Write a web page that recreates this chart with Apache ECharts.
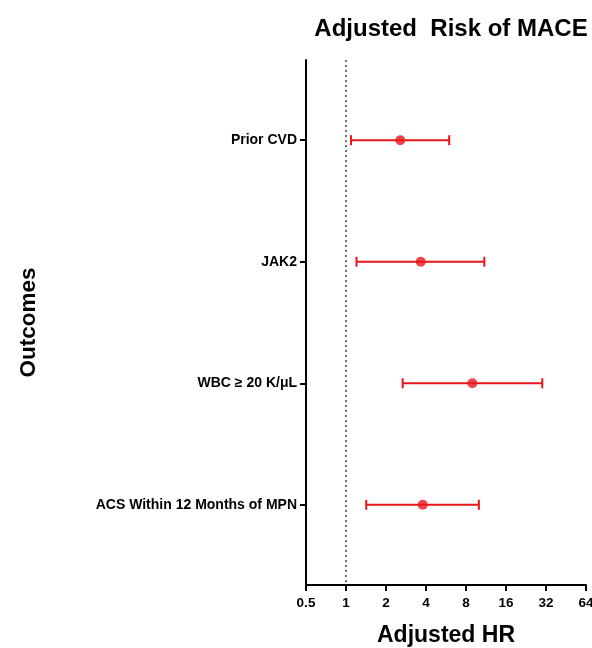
<!DOCTYPE html>
<html>
<head>
<meta charset="utf-8">
<script src="https://cdn.jsdelivr.net/npm/echarts@6/dist/echarts.min.js"></script>
<style>
  html, body { margin: 0; padding: 0; background: #fff; }
  #main { width: 592px; height: 648px; }
</style>
</head>
<body>
<div id="main"></div>
<script>
var myChart = echarts.init(document.getElementById('main'));

// outcomes, top to bottom
var categories = ['Prior CVD', 'JAK2', 'WBC \u2265 20 K/\u03bcL', 'ACS Within 12 Months of MPN'];
var hr = [2.56, 3.65, 8.93, 3.78];
var lower = [1.09, 1.20, 2.67, 1.42];
var upper = [5.98, 10.99, 30.0, 10.0];
var xTicks = [0.5, 1, 2, 4, 8, 16, 32, 64];

var red = '#e8161b';
var pointData = [];
var barData = [];
for (var i = 0; i < categories.length; i++) {
  pointData.push([hr[i], i]);
  barData.push([lower[i], upper[i], i]);
}

var option = {
  animation: false,
  title: {
    text: 'Adjusted  Risk of MACE',
    left: 446,
    top: 12,
    textAlign: 'center',
    textStyle: { fontFamily: 'Liberation Sans', fontSize: 24, fontWeight: 'bold', color: '#000' }
  },
  grid: { left: 306, right: 6, top: 60, bottom: 63, outerBoundsMode: 'none', containLabel: false },
  xAxis: {
    type: 'log',
    logBase: 2,
    min: xTicks[0],
    max: xTicks[xTicks.length - 1],
    interval: 1,
    name: 'Adjusted HR',
    nameLocation: 'middle',
    nameGap: 39,
    nameTextStyle: { fontFamily: 'Liberation Sans', fontSize: 23, fontWeight: 'bold', color: '#000' },
    axisLine: { onZero: false, lineStyle: { color: '#000', width: 2 } },
    axisTick: { length: 6, lineStyle: { color: '#000', width: 2 } },
    axisLabel: {
      fontFamily: 'Liberation Sans', fontSize: 13.5, fontWeight: 'bold', color: '#000', margin: 11,
      formatter: function (v) { return String(Math.round(v * 10) / 10); }
    },
    splitLine: { show: false }
  },
  yAxis: {
    type: 'value',
    inverse: true,
    min: -0.66,
    max: 3.66,
    name: 'Outcomes',
    nameLocation: 'middle',
    nameGap: 266,
    nameRotate: 90,
    nameTextStyle: { fontFamily: 'Liberation Sans', fontSize: 22.5, fontWeight: 'bold', color: '#000' },
    axisLine: { show: true, onZero: false, lineStyle: { color: '#000', width: 2 } },
    axisTick: { show: true, length: 6, customValues: [0, 1, 2, 3], lineStyle: { color: '#000', width: 2 } },
    axisLabel: {
      customValues: [0, 1, 2, 3],
      fontFamily: 'Liberation Sans', fontSize: 14, fontWeight: 'bold', color: '#000', margin: 9,
      formatter: function (v) { return categories[Math.round(v)] || ''; }
    },
    splitLine: { show: false }
  },
  series: [
    {
      type: 'custom',
      data: barData,
      z: 3,
      renderItem: function (params, api) {
        var y = api.value(2);
        var a = api.coord([api.value(0), y]);
        var b = api.coord([api.value(1), y]);
        var cap = 5;
        var style = { stroke: red, lineWidth: 2 };
        return {
          type: 'group',
          children: [
            { type: 'line', shape: { x1: a[0], y1: a[1], x2: b[0], y2: b[1] }, style: style },
            { type: 'line', shape: { x1: a[0], y1: a[1] - cap, x2: a[0], y2: a[1] + cap }, style: style },
            { type: 'line', shape: { x1: b[0], y1: b[1] - cap, x2: b[0], y2: b[1] + cap }, style: style }
          ]
        };
      }
    },
    {
      type: 'scatter',
      data: pointData,
      symbol: 'circle',
      symbolSize: 10,
      z: 4,
      itemStyle: { color: red },
      markLine: {
        silent: true,
        symbol: 'none',
        label: { show: false },
        lineStyle: { color: '#444', type: [2, 3], width: 1.5 },
        data: [{ xAxis: 1 }]
      }
    }
  ]
};

myChart.setOption(option);
</script>
</body>
</html>
